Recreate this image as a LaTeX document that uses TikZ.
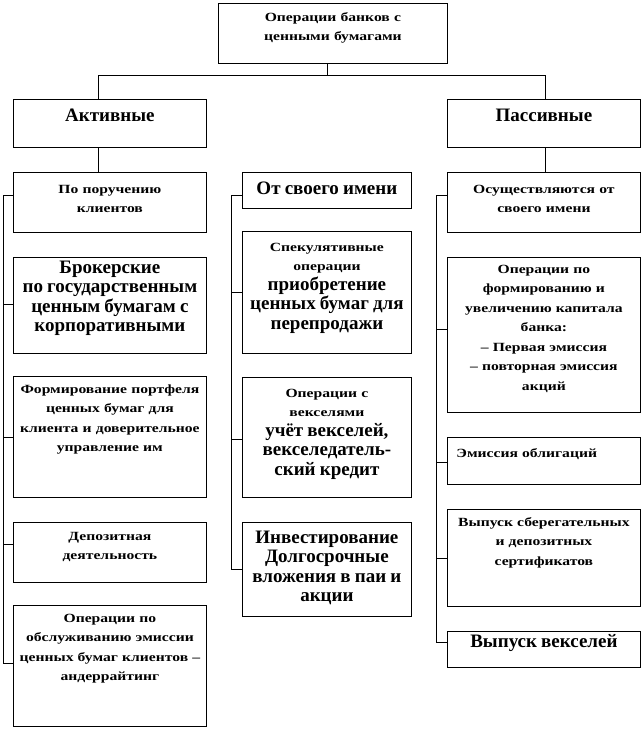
\documentclass[tikz,border=0pt]{standalone}
\usepackage{fontspec}
\setmainfont{Liberation Serif}
\newfontfamily\wideserif[FakeStretch=1.25]{Liberation Serif}
\newcommand\smallf{\wideserif\bfseries\fontsize{12.5}{19.5}\selectfont}
\newcommand\bigf{\rmfamily\bfseries\fontsize{19}{19.5}\selectfont}
\tikzset{
  blk/.style={draw, line width=0.8pt, anchor=north west, inner sep=0pt, align=center, font=\smallf},
  lnk/.style={line width=0.8pt},
}
\begin{document}
\begin{tikzpicture}[x=1pt,y=-1pt]
  \useasboundingbox (0,0) rectangle (644,730);
  % top levels
  \node[blk, text width=229pt, text height=18pt, text depth=42pt] (top) at (218,3) {Операции банков с\\ ценными бумагами};
  \node[blk, text width=193pt, text height=22pt, text depth=26pt] (akt) at (13,99) {\bigf Активные};
  \node[blk, text width=193pt, text height=22pt, text depth=26pt] (pas) at (447,99) {\bigf Пассивные};
  % left column
  \node[blk, text width=193pt, text height=21pt, text depth=39pt] (l1) at (13,172) {По поручению\\ клиентов};
  \node[blk, text width=193pt, text height=16pt, text depth=80pt] (l2) at (13,257) {\bigf Брокерские\\ по государственным\\ ценным бумагам с\\ корпоративными};
  \node[blk, text width=193pt, text height=17pt, text depth=104pt] (l3) at (13,376) {Формирование портфеля\\ ценных бумаг для\\ клиента и доверительное\\ управление им};
  \node[blk, text width=193pt, text height=18pt, text depth=42pt] (l4) at (13,522) {Депозитная\\ деятельность};
  \node[blk, text width=193pt, text height=17pt, text depth=104pt] (l5) at (13,605) {Операции по\\ обслуживанию эмиссии\\ ценных бумаг клиентов –\\ андеррайтинг};
  % middle column
  \node[blk, text width=169pt, text height=22pt, text depth=14pt] (m1) at (242,172) {\bigf От своего имени};
  \node[blk, text width=169pt, text height=20pt, text depth=102pt] (m2) at (242,231) {Спекулятивные\\ операции\\ \bigf приобретение\\ ценных бумаг для\\ перепродажи};
  \node[blk, text width=169pt, text height=20pt, text depth=100pt] (m3) at (242,377) {Операции с\\ векселями\\ \bigf учёт векселей,\\ векселедатель-\\ ский кредит};
  \node[blk, text width=169pt, text height=21pt, text depth=73pt] (m4) at (242,522) {\bigf Инвестирование\\ Долгосрочные\\ вложения в паи и\\ акции};
  % right column
  \node[blk, text width=193pt, text height=21pt, text depth=39pt] (r1) at (447,172) {Осуществляются от\\ своего имени};
  \node[blk, text width=193pt, text height=16pt, text depth=139pt] (r2) at (447,257) {Операции по\\ формированию и\\ увеличению капитала\\ банка:\\ – Первая эмиссия\\ – повторная эмиссия\\ акций};
  \node[blk, align=left, inner xsep=9pt, text width=175pt, text height=20pt, text depth=27pt] (r3) at (447,437) {Эмиссия облигаций};
  \node[blk, text width=193pt, text height=17pt, text depth=80pt] (r4) at (447,509) {Выпуск сберегательных\\ и депозитных\\ сертификатов};
  \node[blk, text width=193pt, text height=16pt, text depth=20pt] (r5) at (447,631) {\bigf Выпуск векселей};
  % bus lines
  \coordinate (lbus) at (3,0);
  \coordinate (mbus) at (231,0);
  \coordinate (rbus) at (436,0);
  % links
  \draw[lnk] ([xshift=-6pt]top.south) -- ++(0,12) coordinate (split);
  \draw[lnk] ([xshift=-12pt]akt.north) |- (split) -| ([xshift=1pt]pas.north);
  \draw[lnk] ([xshift=-12pt]akt.south) -- ([xshift=-12pt]akt.south |- l1.north);
  \draw[lnk] ([xshift=1pt]pas.south) -- ([xshift=1pt]pas.south |- r1.north);
  \draw[lnk] ([yshift=7pt]l1.west -| lbus) -- ([yshift=2.5pt]l5.west -| lbus);
  \draw[lnk] ([yshift=-5pt]m1.west -| mbus) -- (m4.west -| mbus);
  \draw[lnk] ([yshift=7pt]r1.west -| rbus) -- ([yshift=7pt]r5.west -| rbus);
  \foreach \n/\dy in {l1/7, l2/1, l3/0, l4/8, l5/2.5}
    \draw[lnk] ([yshift=\dy pt]\n.west -| lbus) -- ([yshift=\dy pt]\n.west);
  \foreach \n/\dy in {m1/-5, m2/0, m3/-2, m4/0}
    \draw[lnk] ([yshift=\dy pt]\n.west -| mbus) -- ([yshift=\dy pt]\n.west);
  \foreach \n/\dy in {r1/7, r2/5.5, r3/-1.5, r4/0, r5/7}
    \draw[lnk] ([yshift=\dy pt]\n.west -| rbus) -- ([yshift=\dy pt]\n.west);
\end{tikzpicture}
\end{document}
